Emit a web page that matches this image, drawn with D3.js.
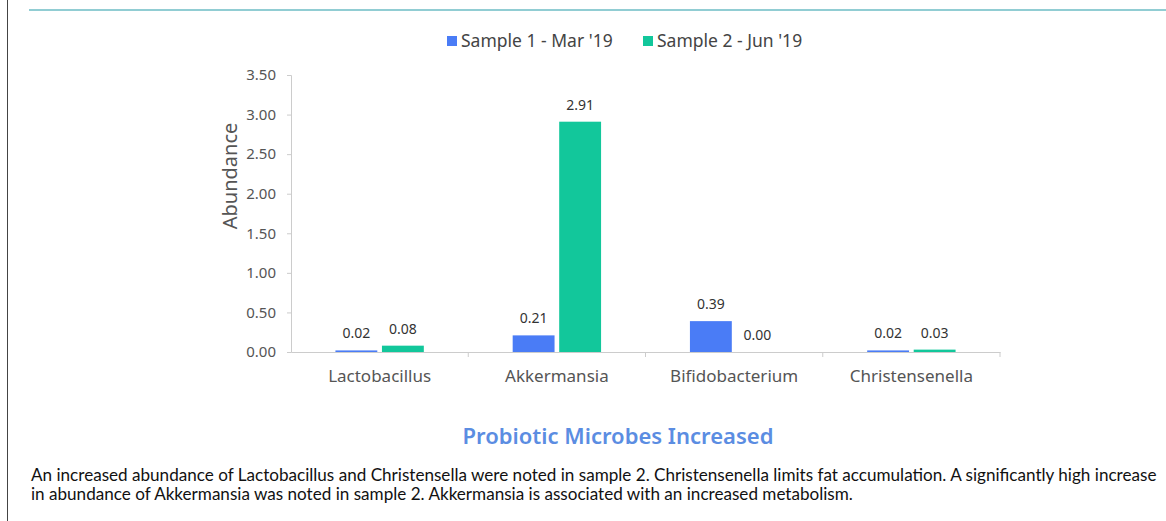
<!DOCTYPE html>
<html>
<head>
<meta charset="utf-8">
<script src="https://cdn.jsdelivr.net/npm/d3@7"></script>
<style>
  body { margin: 0; background: #fff; }
  svg { display: block; }
</style>
</head>
<body>
<div id="chart"></div>
<script>
const width = 1166, height = 521;

const categories = ["Lactobacillus", "Akkermansia", "Bifidobacterium", "Christensenella"];
const seriesNames = ["Sample 1 - Mar '19", "Sample 2 - Jun '19"];
const sample1 = [0.02, 0.21, 0.39, 0.02];
const sample2 = [0.08, 2.91, 0.00, 0.03];
const yTicks = [0, 0.5, 1, 1.5, 2, 2.5, 3, 3.5];
const colors = ["#4a7cf6", "#12c79b"];
const title = "Probiotic Microbes Increased";
const captionLines = [
  "An increased abundance of Lactobacillus and Christensella were noted in sample 2. Christensenella limits fat accumulation. A significantly high increase",
  "in abundance of Akkermansia was noted in sample 2. Akkermansia is associated with an increased metabolism."
];

const chartFont = "'Noto Sans', sans-serif";

const svg = d3.select("#chart").append("svg")
  .attr("width", width)
  .attr("height", height);

// frame: left border and top rule
svg.append("line")
  .attr("x1", 7.5).attr("x2", 7.5).attr("y1", 0).attr("y2", height)
  .attr("stroke", "#444").attr("stroke-width", 1);
svg.append("line")
  .attr("x1", 29).attr("x2", width).attr("y1", 10).attr("y2", 10)
  .attr("stroke", "#6cbcc4").attr("stroke-width", 1.5);

const x0 = d3.scaleBand()
  .domain(categories)
  .range([291, 1000])
  .padding(0);

const x1 = d3.scaleBand()
  .domain([0, 1])
  .range([0, x0.bandwidth()])
  .paddingInner(0.1)
  .paddingOuter(0.955);

const y = d3.scaleLinear()
  .domain([0, 3.5])
  .range([352, 75]);

// y axis
const yAxis = svg.append("g")
  .attr("transform", "translate(291,0)")
  .call(d3.axisLeft(y).tickValues(yTicks).tickFormat(d3.format(".2f")).tickSize(4).tickPadding(11));
yAxis.select(".domain").attr("stroke", "#ccc");
yAxis.selectAll(".tick line").attr("stroke", "#ccc");
yAxis.selectAll("text")
  .attr("fill", "#555")
  .style("font-family", chartFont)
  .style("font-size", "15px");

// x axis
const xAxis = svg.append("g")
  .attr("transform", "translate(0,352)")
  .call(d3.axisBottom(x0).tickSize(0).tickPadding(18));
xAxis.select(".domain").attr("stroke", "#ccc");
xAxis.selectAll("text")
  .attr("fill", "#555")
  .style("font-family", chartFont)
  .style("font-size", "17px");
// boundary ticks between categories
xAxis.selectAll(".sep")
  .data(categories)
  .join("line")
  .attr("class", "sep")
  .attr("x1", d => x0(d) + x0.bandwidth())
  .attr("x2", d => x0(d) + x0.bandwidth())
  .attr("y1", 0).attr("y2", 5)
  .attr("stroke", "#ccc");

// y title
svg.append("text")
  .attr("transform", `translate(237,176) rotate(-90)`)
  .attr("text-anchor", "middle")
  .attr("fill", "#555")
  .style("font-family", chartFont)
  .style("font-size", "20px")
  .text("Abundance");

// bars
const rows = categories.map((c, i) => ({ cat: c, vals: [sample1[i], sample2[i]] }));

const groups = svg.append("g").selectAll("g")
  .data(rows)
  .join("g")
  .attr("transform", d => `translate(${x0(d.cat)},0)`);

groups.selectAll("rect")
  .data(d => d.vals.map((v, s) => ({ v, s })))
  .join("rect")
  .attr("x", d => x1(d.s))
  .attr("width", x1.bandwidth())
  .attr("y", d => y(d.v))
  .attr("height", d => y(0) - y(d.v))
  .attr("fill", d => colors[d.s]);

// value labels
groups.selectAll("text")
  .data(d => d.vals.map((v, s) => ({ v, s })))
  .join("text")
  .attr("x", d => x1(d.s) + x1.bandwidth() / 2)
  .attr("y", d => y(d.v) - 12)
  .attr("text-anchor", "middle")
  .attr("fill", "#333")
  .style("font-family", chartFont)
  .style("font-size", "14px")
  .text(d => d3.format(".2f")(d.v));

// legend
const legendX = [447, 643];
const legend = svg.append("g").selectAll("g")
  .data(seriesNames)
  .join("g")
  .attr("transform", (d, i) => `translate(${legendX[i]},36)`);
legend.append("rect")
  .attr("width", 10).attr("height", 10)
  .attr("fill", (d, i) => colors[i]);
legend.append("text")
  .attr("x", 14).attr("y", 11)
  .attr("fill", "#444")
  .style("font-family", chartFont)
  .style("font-size", "17.5px")
  .text(d => d);

// chart title
svg.append("text")
  .attr("x", 618).attr("y", 444)
  .attr("text-anchor", "middle")
  .attr("fill", "#5b8de2")
  .style("font-family", chartFont)
  .style("font-size", "22px")
  .style("font-weight", "600")
  .text(title);

// caption
svg.append("g").selectAll("text")
  .data(captionLines)
  .join("text")
  .attr("x", 31)
  .attr("y", (d, i) => 481 + i * 19)
  .attr("fill", "#111")
  .style("font-family", "Lato, sans-serif")
  .style("font-size", "17.1px")
  .text(d => d);
</script>
</body>
</html>
